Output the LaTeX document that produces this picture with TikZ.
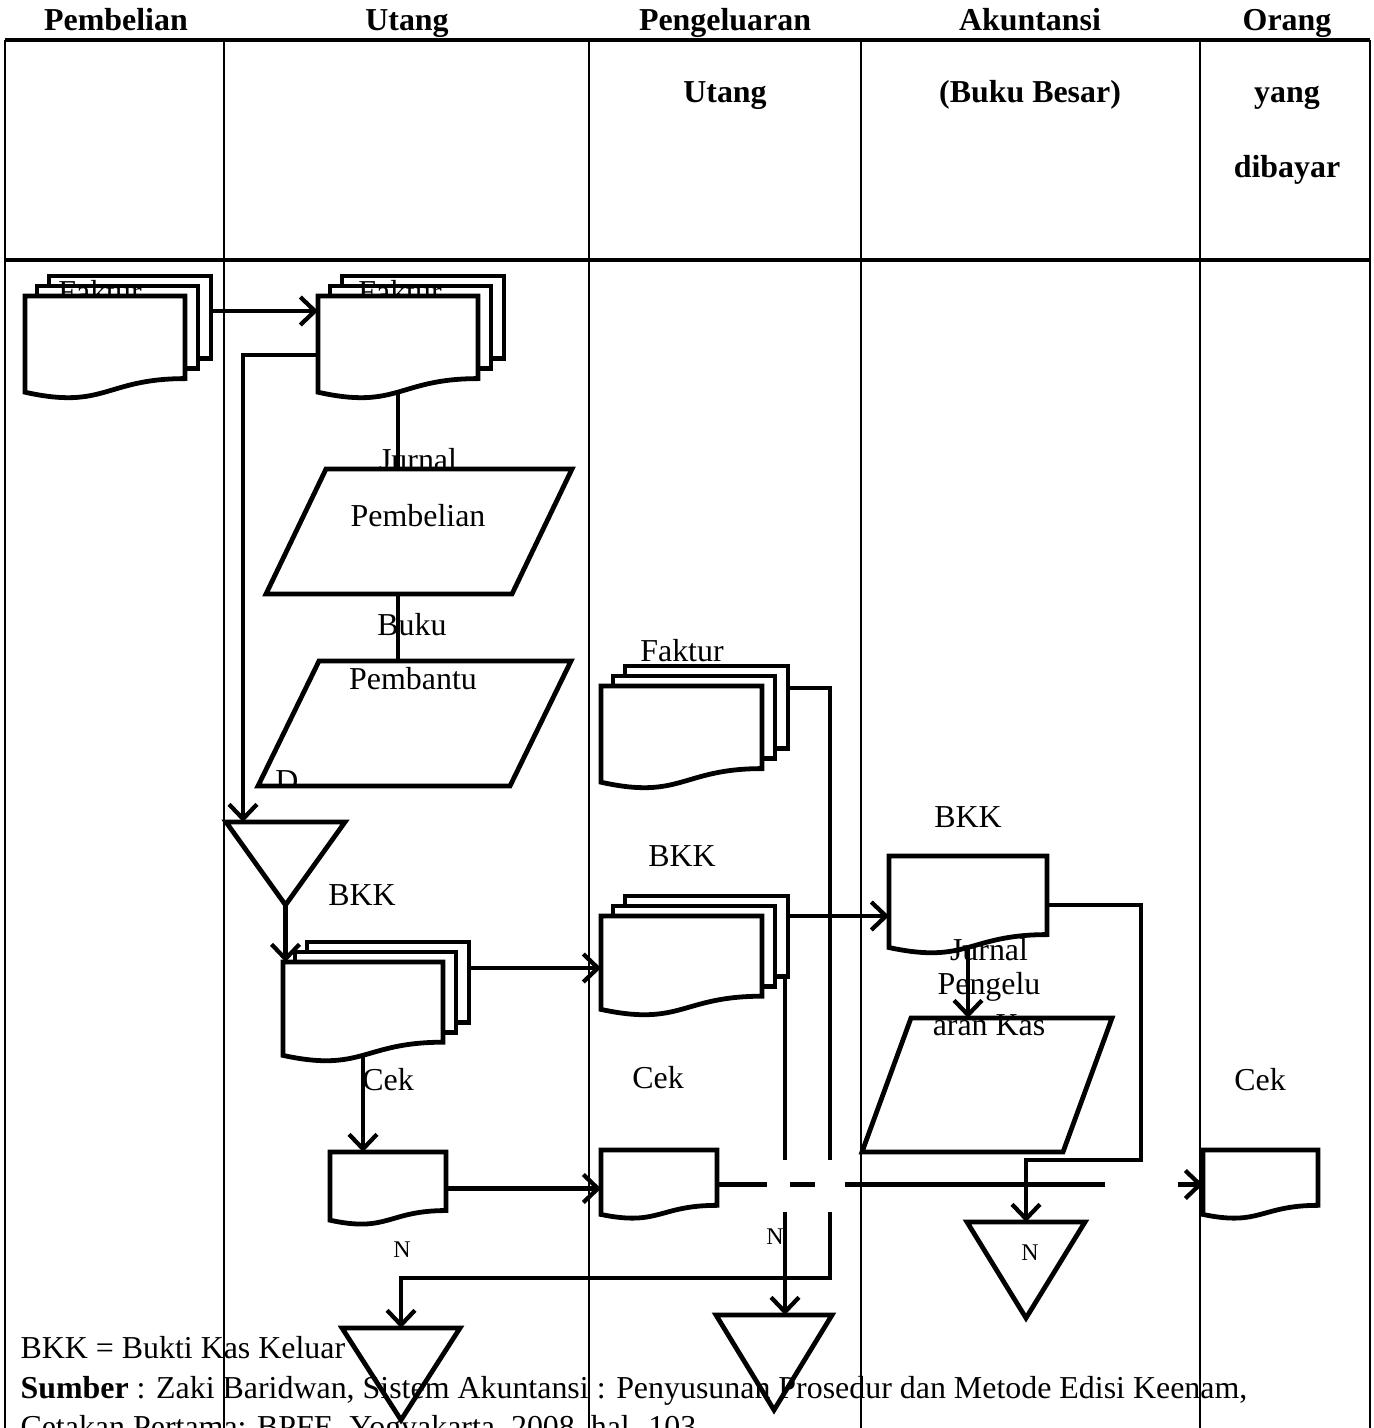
\documentclass[tikz,border=0pt]{standalone}
\usepackage{fontspec}
\setmainfont{Liberation Serif}
\usetikzlibrary{arrows.meta,calc,fit,positioning}

\pgfdeclarelayer{background}
\pgfsetlayers{background,main}

\tikzset{
  lane/.style={line width=0.8pt},
  rowline/.style={line width=1.3pt},
  head/.style={font=\fontsize{12}{14}\selectfont\bfseries,anchor=base,inner sep=0pt},
  lbl/.style={inner sep=0pt},
  nlbl/.style={inner sep=0pt,font=\fontsize{9}{10}\selectfont},
  box/.style={inner sep=0pt,outer sep=0pt},
  shapeline/.style={line width=1.8pt,fill=white},
  flow/.style={line width=1.6pt},
  arrow/.style={flow,-{Straight Barb[length=5.5pt,width=10.5pt]}},
}

\newcommand\docline[1]{%
  \draw[shapeline] let \p1=(#1.north west), \p2=(#1.south east) in
    (\x1,\y1) -- (\x2,\y1) -- (\x2,{\y1+0.802*((\y2)-(\y1))})
    .. controls ({0.5*(\x1+\x2)},{\y1+0.802*((\y2)-(\y1))})
            and ({0.5*(\x1+\x2)},{\y1+1.1075*((\y2)-(\y1))})
    .. (\x1,{\y1+0.934*((\y2)-(\y1))}) -- cycle;}
\newcommand\docnode[2]{%
  \node[box,fit={#2}] (#1) {};
  \docline{#1}}
\newcommand\docsnode[2]{%
  \node[box,fit={#2}] (#1) {};
  \foreach \k in {2,1}{
    \draw[shapeline] let \p1=(#1.north west), \p2=(#1.south east) in
      ($(\x1,\y1)+(12*\k,-10*\k)$) rectangle ($(\x2,{\y1+0.802*((\y2)-(\y1))})+(13*\k,-10*\k)$);}
  \docline{#1}}
\newcommand\jurnalnode[3]{%
  \node[box,fit={#2}] (#1) {};
  \draw[shapeline] ($(#1.north west)+(#3,0)$) -- (#1.north east)
    -- ($(#1.south east)+(-#3,0)$) -- (#1.south west) -- cycle;}
\newcommand\arsipnode[2]{%
  \node[box,fit={#2}] (#1) {};
  \draw[shapeline,fill=none] (#1.north west) -- (#1.north east) -- (#1.south) -- cycle;}

\begin{document}
\begin{tikzpicture}[x=0.376pt,y=-0.376pt,font=\fontsize{12}{14}\selectfont]
  \useasboundingbox (0,0) rectangle (1374,1428);

  % Pembelian / Utang
  \docsnode{fakturA}{(25,296) (185,399)}
  \docsnode{fakturB}{(318,296) (478,399)}
  \jurnalnode{jurnalA}{(266,469) (572,594)}{60}
  \jurnalnode{bukuA}{(258,661) (571,786)}{61}
  \arsipnode{arsipA}{(226,822) (345,905)}
  \docsnode{bkkA}{(283,962) (443,1062)}
  \docnode{cekA}{(330,1152) (446,1225)}
  \arsipnode{arsipB}{(342,1328) (460,1420)}

  % Pengeluaran Utang
  \docsnode{fakturC}{(601,686) (762,789)}
  \docsnode{bkkB}{(601,916) (762,1016)}
  \docnode{cekB}{(601,1150) (717,1219)}
  \arsipnode{arsipC}{(716,1315) (832,1410)}

  % Akuntansi
  \docnode{bkkC}{(889,856) (1047,954)}
  \jurnalnode{jurnalC}{(862,1018) (1112,1152)}{49}
  \arsipnode{arsipD}{(967,1222) (1085,1318)}

  % Orang yang dibayar
  \docnode{cekC}{(1203,1150) (1318,1219)}

  \coordinate (vA) at ($(bkkB.north east)+(23,60)$);
  \coordinate (vB) at ($(fakturC.north east)+(68,2)$);

  \begin{pgfonlayer}{background}
    \draw[rowline] (5,40) -- (1370,40) (5,260) -- (1370,260);
    \foreach \x in {5,224,589,861,1200,1370}
      \draw[lane] (\x,40) -- (\x,1428);

    \draw[arrow] ($(fakturA.north east)+(27,15)$) -- ($(fakturB.north west)+(0,15)$);
    \draw[flow] (fakturB.center) -- (fakturB.center |- jurnalA.north);
    \draw[flow] (fakturB.center |- jurnalA.south) -- (fakturB.center |- bukuA.north);
    \draw[arrow] ($(fakturB.north west)+(0,59)$) -| ($(arsipA.north west)+(17,0)$);
    \draw[arrow] (arsipA.south) -- (arsipA.south |- bkkA.north);
    \draw[arrow] ($(bkkA.north east)+(26,6)$) -- ($(bkkB.north west)+(0,52)$);
    \draw[arrow] (bkkA.center) -- (bkkA.center |- cekA.north);
    \draw[arrow] (cekA.east) -- (cekA.east -| cekB.west);

    \draw[flow] (cekB.east) -- ($(cekB.east -| vA)+(-18,0)$)
      ($(cekB.east -| vA)+(5,0)$) -- ($(cekB.east -| vB)+(-15,0)$)
      ($(cekB.east -| vB)+(15,0)$) -- ($(cekB.east -| cekC.west)+(-98,0)$);
    \draw[arrow] ($(cekB.east -| cekC.west)+(-25,0)$) -- (cekB.east -| cekC.west);

    \draw[arrow] ($(bkkB.north east)+(26,0)$) -- (bkkB.north -| bkkC.west);
    \draw[arrow] (vA) -- ($(vA |- cekB.east)+(0,-25)$)
      ($(vA |- cekB.east)+(0,27)$) -- (vA |- arsipC.north);
    \draw[arrow] ($(fakturC.north east)+(26,2)$) -- (vB) -- ($(vB |- cekB.east)+(0,-25)$)
      ($(vB |- cekB.east)+(0,27)$) |- ($(arsipB.north)+(0,-50)$) -- (arsipB.north);

    \draw[arrow] (bkkC.center) -- (bkkC.center |- jurnalC.north);
    \draw[arrow] (bkkC.east) -| ($(arsipD.north)+(115,-62)$) -| (arsipD.north);
  \end{pgfonlayer}

  % header
  \node[head] (hPembelian) at (116,31) {Pembelian};
  \node[head] (hUtang) at (407,31) {Utang};
  \node[head] (hPengeluaran) at (725,31) {Pengeluaran};
  \node[head] (hAkuntansi) at (1030,31) {Akuntansi};
  \node[head] (hOrang) at (1287,31) {Orang};
  \node[head] (hUtang2) at (725,103) {Utang};
  \node[head] (hBesar) at (1030,103) {(Buku Besar)};
  \node[head] (hYang) at (1287,103) {yang};
  \node[head] (hDibayar) at (1287,178) {dibayar};

  % labels
  \begin{scope}
    \clip (0,270) rectangle (600,296);
    \node[lbl,anchor=base] (lFakturA) at (100,303) {Faktur};
    \node[lbl,anchor=base] (lFakturB) at (400,303) {Faktur};
  \end{scope}
  \node[lbl] (lJurnalA) at (418,460) {Jurnal};
  \node[lbl] (lPembelian) at (418,516) {Pembelian};
  \node[lbl] (lBuku) at (412,625) {Buku};
  \node[lbl] (lPembantu) at (413,679) {Pembantu};
  \begin{scope}
    \clip (260,760) rectangle (320,786);
    \node[lbl,anchor=base] (lD) at (287,791) {D};
  \end{scope}
  \node[lbl] (lBkkA) at (362,895) {BKK};
  \node[lbl] (lCekA) at (388,1080) {Cek};
  \node[nlbl] (lNA) at (402,1250) {N};

  \node[lbl] (lFakturC) at (682,651) {Faktur};
  \node[lbl] (lBkkB) at (682,856) {BKK};
  \node[lbl] (lCekB) at (658,1078) {Cek};
  \node[nlbl] (lNB) at (775,1237) {N};

  \node[lbl] (lBkkC) at (968,817) {BKK};
  \node[lbl] (lJurnalC) at (989,950) {Jurnal};
  \node[lbl] (lPengelu) at (989,987) {Pengelu};
  \node[lbl] (lKas) at (989,1025) {aran Kas};
  \node[nlbl] (lNC) at (1030,1253) {N};

  \node[lbl] (lCekC) at (1260,1080) {Cek};

  % keterangan
  \node[lbl,anchor=base west] (ket) at (20,1358) {BKK = Bukti Kas Keluar};
  \node[lbl,anchor=base west] (sumber) at (20,1398)
    {\textbf{Sumber} : Zaki Baridwan, Sistem Akuntansi : Penyusunan Prosedur dan Metode Edisi Keenam,};
  \begin{scope}
    \clip (0,1400) rectangle (1374,1428);
    \node[lbl,anchor=base west] (cetakan) at (20,1437) {Cetakan Pertama: BPFE, Yogyakarta, 2008, hal. 103};
  \end{scope}
\end{tikzpicture}
\end{document}
